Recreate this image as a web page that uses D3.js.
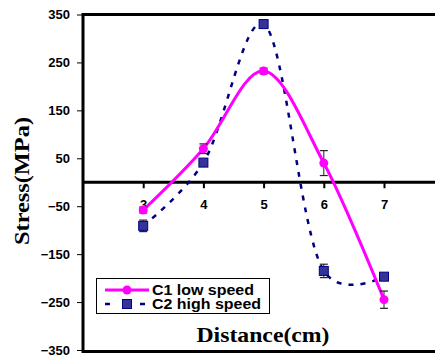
<!DOCTYPE html>
<html><head><meta charset="utf-8">
<script src="https://cdn.jsdelivr.net/npm/d3@7"></script>
<style>html,body{margin:0;padding:0;background:#fff;}svg{display:block;}</style>
</head><body>
<script>
const distances = [3, 4, 5, 6, 7];
const c1Values = [-58, 70, 232, 40, -245];
const c1Errors = [6, 10, 6, 26, 18];
const c2Values = [-91, 41, 330, -185, -197];
const c2Errors = [12, 5, 5, 14, 5];
const yTicks = [350, 250, 150, 50, -50, -150, -250, -350];
const seriesNames = ["C1 low speed", "C2 high speed"];

const W = 435, H = 356;
const svg = d3.select("body").append("svg").attr("width", W).attr("height", H);

const x = d3.scaleLinear().domain([2, 8]).range([83, 83 + 6 * 60.2]);
const y = d3.scaleLinear().domain([-350, 350]).range([350, 14.5]);

// frame top & bottom
svg.append("line").attr("x1", 83).attr("x2", W).attr("y1", y(350)).attr("y2", y(350))
  .attr("stroke", "#000").attr("stroke-width", 3);
svg.append("line").attr("x1", 83).attr("x2", W).attr("y1", y(-350) + 1.5).attr("y2", y(-350) + 1.5)
  .attr("stroke", "#000").attr("stroke-width", 3);

// y axis
const yAxis = svg.append("g").attr("transform", "translate(83,0)")
  .call(d3.axisLeft(y).tickValues(yTicks).tickSize(6).tickPadding(7).tickFormat(d3.format("d")));
yAxis.select(".domain").attr("stroke-width", 3).attr("d", `M0,${y(350)-1.5}V${y(-350)+3}`);
yAxis.selectAll(".tick line").attr("stroke-width", 1);
yAxis.selectAll("text").attr("font-family", "Liberation Sans, Arial, sans-serif")
  .attr("font-weight", "bold").attr("font-size", 13).attr("fill", "#000");

// x axis at zero
const xAxis = svg.append("g").attr("transform", `translate(0,${y(0)})`)
  .call(d3.axisBottom(x).tickValues(distances).tickSize(6).tickPadding(12).tickFormat(d3.format("d")));
xAxis.select(".domain").attr("stroke-width", 3).attr("d", `M83,0H${W}`);
xAxis.selectAll(".tick line").attr("stroke-width", 2);
xAxis.selectAll("text").attr("font-family", "Liberation Sans, Arial, sans-serif")
  .attr("font-weight", "bold").attr("font-size", 13).attr("fill", "#000");

const c1 = distances.map((d, i) => ({x: d, y: c1Values[i], e: c1Errors[i]}));
const c2 = distances.map((d, i) => ({x: d, y: c2Values[i], e: c2Errors[i]}));

const line = d3.line().x(d => x(d.x)).y(d => y(d.y)).curve(d3.curveCatmullRom.alpha(0.2));

svg.append("path").datum(c2).attr("d", line).attr("fill", "none")
  .attr("stroke", "#000080").attr("stroke-width", 2.5).attr("stroke-dasharray", "5,7");
svg.append("path").datum(c1).attr("d", line).attr("fill", "none")
  .attr("stroke", "#FF00FF").attr("stroke-width", 3);

function errBars(data) {
  const g = svg.append("g");
  data.forEach(d => {
    const cx = x(d.x), t = y(d.y + d.e), b = y(d.y - d.e);
    g.append("line").attr("x1", cx).attr("x2", cx).attr("y1", t).attr("y2", b).attr("stroke", "#222").attr("stroke-width", 1);
    g.append("line").attr("x1", cx - 4).attr("x2", cx + 4).attr("y1", t).attr("y2", t).attr("stroke", "#222").attr("stroke-width", 1.2);
    g.append("line").attr("x1", cx - 4).attr("x2", cx + 4).attr("y1", b).attr("y2", b).attr("stroke", "#222").attr("stroke-width", 1.2);
  });
}
errBars(c2);
errBars(c1);

svg.append("g").selectAll("rect").data(c2).join("rect")
  .attr("x", d => x(d.x) - 4.5).attr("y", d => y(d.y) - 4.5).attr("width", 9).attr("height", 9)
  .attr("fill", "#333399").attr("stroke", "#000080").attr("stroke-width", 1);
svg.append("g").selectAll("circle").data(c1).join("circle")
  .attr("cx", d => x(d.x)).attr("cy", d => y(d.y)).attr("r", 4.5).attr("fill", "#FF00FF");

// legend
const lg = svg.append("g");
lg.append("rect").attr("x", 96.5).attr("y", 278.5).attr("width", 173).attr("height", 35)
  .attr("fill", "#fff").attr("stroke", "#000").attr("stroke-width", 1);
lg.append("line").attr("x1", 105).attr("x2", 149).attr("y1", 290).attr("y2", 290)
  .attr("stroke", "#FF00FF").attr("stroke-width", 3);
lg.append("circle").attr("cx", 127).attr("cy", 290).attr("r", 4.5).attr("fill", "#FF00FF");
lg.append("line").attr("x1", 105).attr("x2", 149).attr("y1", 304).attr("y2", 304)
  .attr("stroke", "#000080").attr("stroke-width", 2.5).attr("stroke-dasharray", "5,12.5");
lg.append("rect").attr("x", 122.5).attr("y", 299.5).attr("width", 9).attr("height", 9)
  .attr("fill", "#333399").attr("stroke", "#000080");
const legendWidths = [102, 109];
lg.selectAll("text").data(seriesNames).join("text")
  .attr("x", 152).attr("y", (d, i) => 295 + i * 14)
  .attr("font-family", "Liberation Sans, Arial, sans-serif").attr("font-weight", "bold")
  .attr("font-size", 14.5).attr("fill", "#000")
  .attr("textLength", (d, i) => legendWidths[i]).attr("lengthAdjust", "spacingAndGlyphs")
  .text(d => d);

// axis titles
svg.append("text").attr("x", 263).attr("y", 342).attr("text-anchor", "middle")
  .attr("font-family", "Liberation Serif, Times New Roman, serif").attr("font-weight", "bold")
  .attr("font-size", 22).attr("fill", "#000")
  .attr("textLength", 133).attr("lengthAdjust", "spacingAndGlyphs").text("Distance(cm)");
svg.append("text").attr("transform", "translate(29,181) rotate(-90)").attr("text-anchor", "middle")
  .attr("font-family", "Liberation Serif, Times New Roman, serif").attr("font-weight", "bold")
  .attr("font-size", 22).attr("fill", "#000")
  .attr("textLength", 128).attr("lengthAdjust", "spacingAndGlyphs").text("Stress(MPa)");
</script>
</body></html>
